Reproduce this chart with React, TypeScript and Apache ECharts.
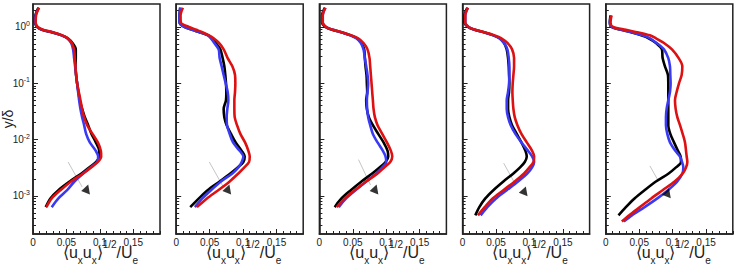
import React, { useEffect, useRef } from "react";
import * as echarts from "echarts";

// y/δ sampling levels shared by every profile
const Y_LEVELS = [
  2.2, 1.6, 1.2, 1.0, 0.89, 0.8, 0.71, 0.63, 0.52, 0.4, 0.28, 0.2, 0.14, 0.1, 0.07, 0.05,
  0.035, 0.025, 0.018, 0.0126, 0.0089, 0.0063, 0.005, 0.004, 0.0032, 0.0025, 0.0018,
  0.00126, 0.0009, 0.00063, 0.00045, 0.00035,
];

// <uxux>^1/2/Ue at each level, panel by panel
const BLACK_1 = [0.008, 0.0035, 0.003, 0.006, 0.013, 0.029, 0.043, 0.052, 0.059, 0.064, 0.064, 0.0635, 0.0645, 0.066, 0.068, 0.07, 0.0735, 0.0775, 0.0825, 0.0875, 0.094, 0.099, 0.099, 0.0945, 0.084, 0.0725, 0.055, 0.038, 0.026, 0.019, null, null];
const BLUE_1 = [0.009, 0.004, 0.0035, 0.0065, 0.014, 0.03, 0.043, 0.051, 0.057, 0.06, 0.0615, 0.063, 0.0645, 0.066, 0.0675, 0.069, 0.071, 0.0735, 0.0765, 0.0795, 0.085, 0.094, 0.0975, 0.096, 0.086, 0.075, 0.062, 0.051, 0.038, 0.028, null, null];
const RED_1 = [0.009, 0.0045, 0.004, 0.007, 0.015, 0.031, 0.044, 0.052, 0.058, 0.0615, 0.0625, 0.0635, 0.0645, 0.066, 0.0685, 0.071, 0.0735, 0.0765, 0.081, 0.089, 0.097, 0.1015, 0.102, 0.097, 0.087, 0.075, 0.057, 0.041, 0.028, 0.02, null, null];

const BLACK_2 = [0.006, 0.005, 0.005, 0.012, 0.024, 0.036, 0.0485, 0.053, 0.059, 0.066, 0.0695, 0.072, 0.0735, 0.0745, 0.075, 0.0745, 0.071, 0.072, 0.0755, 0.082, 0.089, 0.098, 0.1025, 0.1005, 0.092, 0.081, 0.065, 0.047, 0.034, 0.021, null, null];
const BLUE_2 = [0.006, 0.005, 0.005, 0.012, 0.024, 0.036, 0.047, 0.052, 0.057, 0.0635, 0.065, 0.068, 0.071, 0.074, 0.077, 0.078, 0.0765, 0.0755, 0.076, 0.08, 0.085, 0.095, 0.1005, 0.098, 0.093, 0.084, 0.067, 0.052, 0.039, 0.028, null, null];
const RED_2 = [0.01, 0.0065, 0.007, 0.019, 0.03, 0.04, 0.049, 0.056, 0.064, 0.071, 0.077, 0.084, 0.088, 0.0885, 0.088, 0.087, 0.087, 0.0875, 0.091, 0.096, 0.103, 0.108, 0.11, 0.109, 0.102, 0.093, 0.08, 0.063, 0.046, 0.031, null, null];

const BLACK_3 = [0.008, 0.004, 0.004, 0.009, 0.019, 0.034, 0.047, 0.056, 0.063, 0.067, 0.068, 0.069, 0.0705, 0.071, 0.0715, 0.07, 0.071, 0.074, 0.08, 0.088, 0.096, 0.102, 0.103, 0.099, 0.09, 0.079, 0.063, 0.047, 0.033, 0.023, null, null];
const BLUE_3 = [0.009, 0.005, 0.005, 0.01, 0.02, 0.034, 0.046, 0.055, 0.062, 0.066, 0.068, 0.07, 0.072, 0.073, 0.072, 0.071, 0.0715, 0.073, 0.076, 0.08, 0.087, 0.095, 0.099, 0.1, 0.094, 0.085, 0.07, 0.054, 0.04, 0.029, null, null];
const RED_3 = [0.009, 0.005, 0.005, 0.01, 0.02, 0.035, 0.048, 0.058, 0.066, 0.072, 0.075, 0.076, 0.077, 0.078, 0.079, 0.08, 0.081, 0.083, 0.087, 0.094, 0.101, 0.107, 0.109, 0.106, 0.097, 0.087, 0.07, 0.053, 0.038, 0.026, null, null];

const BLACK_4 = [0.007, 0.003, 0.003, 0.008, 0.018, 0.033, 0.046, 0.055, 0.062, 0.066, 0.068, 0.069, 0.0695, 0.07, 0.0695, 0.068, 0.068, 0.07, 0.074, 0.081, 0.088, 0.094, 0.096, 0.093, 0.086, 0.076, 0.061, 0.046, 0.034, 0.025, 0.019, null];
const BLUE_4 = [0.008, 0.004, 0.004, 0.009, 0.018, 0.033, 0.046, 0.055, 0.062, 0.067, 0.069, 0.07, 0.07, 0.0695, 0.068, 0.066, 0.066, 0.068, 0.072, 0.079, 0.088, 0.098, 0.104, 0.107, 0.104, 0.097, 0.083, 0.066, 0.05, 0.037, 0.027, null];
const RED_4 = [0.008, 0.004, 0.004, 0.009, 0.019, 0.034, 0.048, 0.058, 0.067, 0.074, 0.077, 0.077, 0.076, 0.075, 0.0745, 0.075, 0.076, 0.078, 0.082, 0.088, 0.096, 0.104, 0.107, 0.106, 0.1, 0.092, 0.078, 0.061, 0.045, 0.033, 0.023, null];

const BLACK_5 = [null, 0.007, 0.006, 0.0085, 0.023, 0.039, 0.053, 0.064, 0.075, 0.084, 0.085, 0.0885, 0.093, 0.0935, 0.0935, 0.0935, 0.0935, 0.0935, 0.0935, 0.0965, 0.102, 0.108, 0.112, 0.1125, 0.105, 0.094, 0.075, 0.058, 0.043, 0.03, 0.019, null];
const BLUE_5 = [null, 0.008, 0.006, 0.009, 0.023, 0.04, 0.055, 0.066, 0.076, 0.087, 0.0935, 0.096, 0.0965, 0.097, 0.096, 0.0935, 0.091, 0.09, 0.09, 0.092, 0.096, 0.104, 0.111, 0.114, 0.116, 0.1145, 0.107, 0.093, 0.077, 0.058, 0.039, 0.027];
const RED_5 = [null, 0.0085, 0.007, 0.011, 0.03, 0.049, 0.066, 0.075, 0.087, 0.099, 0.109, 0.1145, 0.1135, 0.1095, 0.106, 0.1035, 0.1045, 0.107, 0.111, 0.115, 0.1185, 0.12, 0.121, 0.122, 0.12, 0.115, 0.103, 0.085, 0.068, 0.051, 0.035, 0.024];

// thin grey guide line [x, y/δ] pairs and arrow-head position
const GRAY_1 = [[0.0525, 0.004], [0.0735, 0.00144]];
const GRAY_2 = [[0.0495, 0.004], [0.0705, 0.00144]];
const GRAY_3 = [[0.0585, 0.0044], [0.0765, 0.00156]];
const GRAY_4 = [[0.0615, 0.0038], [0.0795, 0.00156]];
const GRAY_5 = [[0.066, 0.0034], [0.078, 0.0019]];
const TRI_1 = [0.078, 0.00126];
const TRI_2 = [0.075, 0.00126];
const TRI_3 = [0.081, 0.00126];
const TRI_4 = [0.09, 0.00117];
const TRI_5 = [0.09, 0.00108];

const X_MAJOR = [0, 0.05, 0.1, 0.15];
const Y_MAJOR = [0.001, 0.01, 0.1, 1];
const Y_MINOR = [
  0.0003, 0.0004, 0.0005, 0.0006, 0.0007, 0.0008, 0.0009,
  0.002, 0.003, 0.004, 0.005, 0.006, 0.007, 0.008, 0.009,
  0.02, 0.03, 0.04, 0.05, 0.06, 0.07, 0.08, 0.09,
  0.2, 0.3, 0.4, 0.5, 0.6, 0.7, 0.8, 0.9, 2,
];

const PANELS = [
  { black: BLACK_1, blue: BLUE_1, red: RED_1, gray: GRAY_1, tri: TRI_1 },
  { black: BLACK_2, blue: BLUE_2, red: RED_2, gray: GRAY_2, tri: TRI_2 },
  { black: BLACK_3, blue: BLUE_3, red: RED_3, gray: GRAY_3, tri: TRI_3 },
  { black: BLACK_4, blue: BLUE_4, red: RED_4, gray: GRAY_4, tri: TRI_4 },
  { black: BLACK_5, blue: BLUE_5, red: RED_5, gray: GRAY_5, tri: TRI_5 },
];

const FONT = "'Liberation Sans', Arial, Helvetica, sans-serif";
const AX = "#222";

function pairs(xs: (number | null)[]) {
  const out: number[][] = [];
  xs.forEach((x, i) => {
    if (x != null) out.push([x, Y_LEVELS[i]]);
  });
  return out;
}

function buildOption() {
  const grid: any[] = [];
  const xAxis: any[] = [];
  const yAxis: any[] = [];
  const series: any[] = [];
  PANELS.forEach((p, i) => {
    grid.push({
      left: 33 + i * 143.2,
      top: 4,
      width: 127,
      height: 230,
      containLabel: false,
      outerBoundsMode: "none",
      show: true,
      borderColor: AX,
      borderWidth: 1.5,
      backgroundColor: "transparent",
    });
    xAxis.push({
      type: "value",
      gridIndex: i,
      position: "bottom",
      min: 0,
      max: 0.19,
      axisLine: { show: true, onZero: false, lineStyle: { color: AX, width: 1.5 } },
      axisTick: { show: true, inside: true, length: 5, customValues: X_MAJOR, lineStyle: { color: AX, width: 1 } },
      axisLabel: {
        customValues: X_MAJOR,
        fontSize: 10,
        fontFamily: FONT,
        color: AX,
        margin: 3,
        formatter: (v: number) => String(+v.toFixed(2)),
      },
      splitLine: { show: false },
      name: "⟨u{sub|x}u{sub|x}⟩{sup|1/2}/U{sub|e}",
      nameLocation: "middle",
      nameGap: 5,
      nameMoveOverlap: false,
      nameTextStyle: {
        fontSize: 16,
        fontFamily: FONT,
        color: AX,
        lineHeight: 26,
        padding: [0, 0, 0, 8],
        rich: {
          sub: { fontSize: 10, fontFamily: FONT, color: AX, verticalAlign: "bottom", lineHeight: 14 },
          sup: { fontSize: 10, fontFamily: FONT, color: AX, verticalAlign: "top", lineHeight: 8 },
        },
      },
    });
    xAxis.push({
      type: "value",
      gridIndex: i,
      position: "bottom",
      min: 0,
      max: 0.19,
      interval: 0.01,
      axisLine: { show: false },
      axisTick: { show: true, inside: true, length: 3, lineStyle: { color: AX, width: 1 } },
      axisLabel: { show: false },
      splitLine: { show: false },
    });
    yAxis.push({
      type: "log",
      logBase: 10,
      gridIndex: i,
      position: "left",
      min: 0.00021,
      max: 2.56,
      axisLine: { show: true, onZero: false, lineStyle: { color: AX, width: 1.5 } },
      axisTick: { show: true, inside: true, length: 5, customValues: Y_MAJOR, lineStyle: { color: AX, width: 1 } },
      axisLabel: {
        show: i === 0,
        customValues: Y_MAJOR,
        margin: 3,
        formatter: (v: number) => `{b|10}{s|${Math.round(Math.log10(v))}}`,
        rich: {
          b: { fontSize: 10, fontFamily: FONT, color: AX, lineHeight: 14 },
          s: { fontSize: 7, fontFamily: FONT, color: AX, verticalAlign: "top", lineHeight: 8 },
        },
      },
      splitLine: { show: false },
      name: i === 0 ? "y/δ" : "",
      nameLocation: "middle",
      nameRotate: 90,
      nameGap: 18,
      nameMoveOverlap: false,
      nameTextStyle: { fontSize: 14, fontFamily: FONT, color: AX },
    });
    yAxis.push({
      type: "log",
      logBase: 10,
      gridIndex: i,
      position: "left",
      min: 0.00021,
      max: 2.56,
      axisLine: { show: false },
      axisTick: { show: true, inside: true, length: 3, customValues: Y_MINOR, lineStyle: { color: AX, width: 1 } },
      axisLabel: { show: false },
      splitLine: { show: false },
    });
    const xi = 2 * i;
    const yi = 2 * i;
    const line = (data: any[], color: string) => ({
      type: "line",
      xAxisIndex: xi,
      yAxisIndex: yi,
      data,
      smooth: 0.3,
      showSymbol: false,
      symbol: "none",
      silent: true,
      lineStyle: { color, width: 2.6 },
      z: 3,
    });
    series.push({
      type: "line",
      xAxisIndex: xi,
      yAxisIndex: yi,
      data: p.gray,
      showSymbol: false,
      symbol: "none",
      silent: true,
      lineStyle: { color: "#aaa", width: 0.7 },
      z: 2,
    });
    series.push(line(pairs(p.black), "#000000"));
    series.push(line(pairs(p.blue), "#3a3af5"));
    series.push(line(pairs(p.red), "#dd1111"));
    series.push({
      type: "scatter",
      xAxisIndex: xi,
      yAxisIndex: yi,
      data: [p.tri],
      symbol: "triangle",
      symbolSize: [10, 8],
      symbolRotate: 100,
      silent: true,
      itemStyle: { color: "#000" },
      z: 4,
    });
  });
  return { animation: false, grid, xAxis, yAxis, series };
}

export default function App() {
  const ref = useRef<HTMLDivElement>(null);
  useEffect(() => {
    if (!ref.current) return;
    const chart = echarts.init(ref.current, undefined, { renderer: "svg" });
    chart.setOption(buildOption() as any);
    return () => chart.dispose();
  }, []);
  return (
    <div
      ref={ref}
      style={{ position: "absolute", left: 0, top: 0, width: 739, height: 265, background: "#fff" }}
    />
  );
}
